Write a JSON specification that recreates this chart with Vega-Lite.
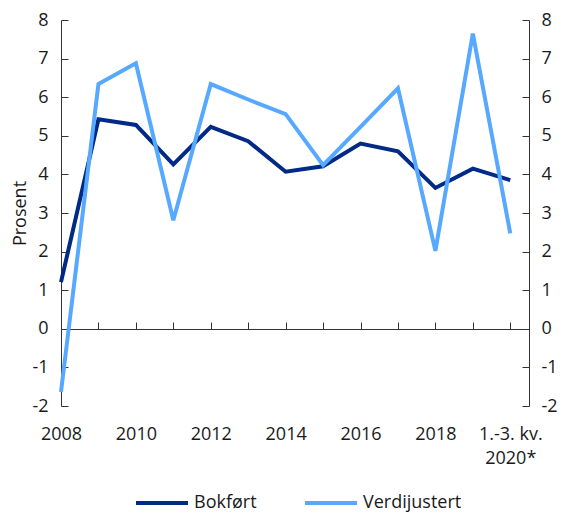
{
  "$schema": "https://vega.github.io/schema/vega-lite/v6.json",
  "width": 468,
  "height": 386,
  "autosize": "none",
  "padding": {"left": 61, "top": 20, "right": 36, "bottom": 108},
  "config": {
    "view": {"stroke": null},
    "font": "Open Sans",
    "axis": {
      "grid": false,
      "labelFont": "Open Sans",
      "labelFontSize": 18,
      "labelColor": "#1a1a1a",
      "domainColor": "#333333",
      "tickColor": "#333333",
      "titleFont": "Open Sans",
      "titleFontWeight": "normal",
      "titleFontSize": 18,
      "titleColor": "#1a1a1a"
    }
  },
  "data": {
    "values": [
      {"year": 2008, "serie": "Bokført", "value": 1.21},
      {"year": 2009, "serie": "Bokført", "value": 5.43},
      {"year": 2010, "serie": "Bokført", "value": 5.28},
      {"year": 2011, "serie": "Bokført", "value": 4.26},
      {"year": 2012, "serie": "Bokført", "value": 5.23},
      {"year": 2013, "serie": "Bokført", "value": 4.86},
      {"year": 2014, "serie": "Bokført", "value": 4.07},
      {"year": 2015, "serie": "Bokført", "value": 4.21},
      {"year": 2016, "serie": "Bokført", "value": 4.80},
      {"year": 2017, "serie": "Bokført", "value": 4.60},
      {"year": 2018, "serie": "Bokført", "value": 3.65},
      {"year": 2019, "serie": "Bokført", "value": 4.15},
      {"year": 2020, "serie": "Bokført", "value": 3.85},
      {"year": 2008, "serie": "Verdijustert", "value": -1.64},
      {"year": 2009, "serie": "Verdijustert", "value": 6.34},
      {"year": 2010, "serie": "Verdijustert", "value": 6.88},
      {"year": 2011, "serie": "Verdijustert", "value": 2.81},
      {"year": 2012, "serie": "Verdijustert", "value": 6.34},
      {"year": 2013, "serie": "Verdijustert", "value": 5.94},
      {"year": 2014, "serie": "Verdijustert", "value": 5.56},
      {"year": 2015, "serie": "Verdijustert", "value": 4.24},
      {"year": 2016, "serie": "Verdijustert", "value": 5.23},
      {"year": 2017, "serie": "Verdijustert", "value": 6.23},
      {"year": 2018, "serie": "Verdijustert", "value": 2.02},
      {"year": 2019, "serie": "Verdijustert", "value": 7.65},
      {"year": 2020, "serie": "Verdijustert", "value": 2.47}
    ]
  },
  "encoding": {
    "x": {
      "field": "year",
      "type": "quantitative",
      "scale": {"domain": [2008, 2020.5], "nice": false, "zero": false},
      "axis": {
        "orient": "bottom",
        "title": null,
        "values": [2008, 2009, 2010, 2011, 2012, 2013, 2014, 2015, 2016, 2017, 2018, 2019, 2020],
        "labelExpr": "datum.value == 2020 ? ['1.-3. kv.', '2020*'] : (datum.value % 2 == 0 ? '' + datum.value : '')",
        "offset": -77,
        "tickSize": -7,
        "labelPadding": 103,
        "labelLineHeight": 24,
        "labelOverlap": false,
        "labelFlush": false
      }
    }
  },
  "layer": [
    {
      "mark": {"type": "line", "strokeWidth": 4, "strokeJoin": "miter", "strokeCap": "butt"},
      "encoding": {
        "y": {
          "field": "value",
          "type": "quantitative",
          "scale": {"domain": [-2, 8], "nice": false},
          "axis": {
            "orient": "left",
            "values": [-2, -1, 0, 1, 2, 3, 4, 5, 6, 7, 8],
            "labelExpr": "'' + datum.value",
            "tickSize": -7,
            "labelPadding": 20,
            "title": "Prosent",
            "titlePadding": 2
          }
        },
        "color": {
          "field": "serie",
          "type": "nominal",
          "scale": {"domain": ["Bokført", "Verdijustert"], "range": ["#002A86", "#57A9FF"]},
          "legend": {
            "title": null,
            "orient": "none",
            "direction": "horizontal",
            "legendX": 73,
            "legendY": 455,
            "symbolType": "stroke",
            "symbolSize": 2704,
            "symbolStrokeWidth": 4,
            "labelFont": "Open Sans",
            "labelFontSize": 18,
            "labelColor": "#1a1a1a",
            "labelOffset": 4,
            "columnPadding": 40
          }
        }
      }
    },
    {
      "mark": {"type": "line", "opacity": 0},
      "encoding": {
        "detail": {"field": "serie"},
        "y": {
          "field": "value",
          "type": "quantitative",
          "scale": {"domain": [-2, 8], "nice": false},
          "axis": {
            "orient": "right",
            "values": [-2, -1, 0, 1, 2, 3, 4, 5, 6, 7, 8],
            "labelExpr": "'' + datum.value",
            "tickSize": -7,
            "labelPadding": 19,
            "title": null
          }
        }
      }
    }
  ],
  "resolve": {"axis": {"y": "independent"}}
}
